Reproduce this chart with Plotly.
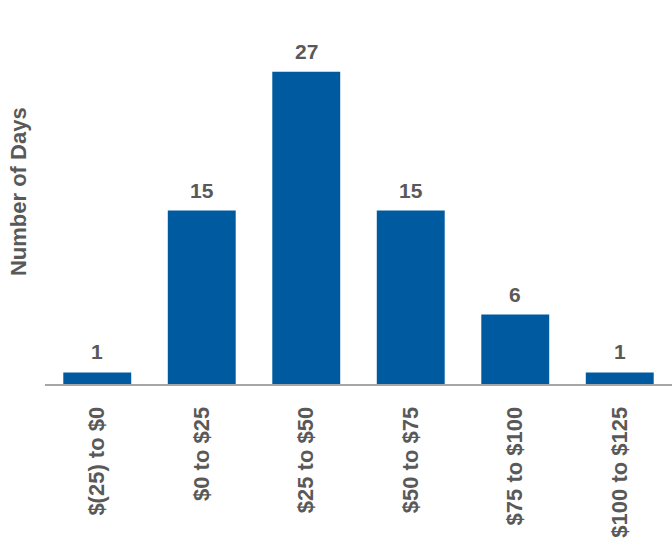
import plotly.graph_objects as go

# ── data ─────────────────────────────────────────────
categories = ["$(25) to $0", "$0 to $25", "$25 to $50",
              "$50 to $75", "$75 to $100", "$100 to $125"]
days = [1, 15, 27, 15, 6, 1]

BLUE = "#005AA0"
GREY = "#595959"
FONT = "Liberation Sans, Arial, sans-serif"

fig = go.Figure(go.Bar(x=categories, y=days, marker_color=BLUE,
                       marker_line_width=0, hoverinfo="x+y"))

# value labels above the bars
for c, v in zip(categories, days):
    fig.add_annotation(x=c, y=v, text=f"<b>{v}</b>", showarrow=False,
                       yanchor="bottom", yshift=7,
                       font=dict(family=FONT, size=21, color=GREY))

# y title
fig.add_annotation(xref="paper", yref="paper", x=-0.042, y=0.555,
                   xanchor="center", yanchor="middle", textangle=-90,
                   text="<b>Number of Days</b>", showarrow=False,
                   font=dict(family=FONT, size=22, color=GREY))

fig.update_layout(
    width=672, height=550,
    margin=dict(l=45, r=0, t=37, b=166),
    paper_bgcolor="white", plot_bgcolor="white",
    bargap=0.35, showlegend=False,
    font=dict(family=FONT, color=GREY),
)
fig.update_xaxes(showline=True, linecolor="#A6A6A6", linewidth=2,
                 ticks="", tickangle=-90, ticklabelstandoff=12,
                 tickfont=dict(family=FONT, size=22, color=GREY),
                 tickprefix="<b>", ticksuffix="</b>", showgrid=False)
fig.update_yaxes(range=[0, 30], visible=False, showgrid=False)

# page body has a default 8px margin -> drop it
fig.write_html("out.html", config={"displayModeBar": False},
               post_script="document.body.style.margin='0';")
